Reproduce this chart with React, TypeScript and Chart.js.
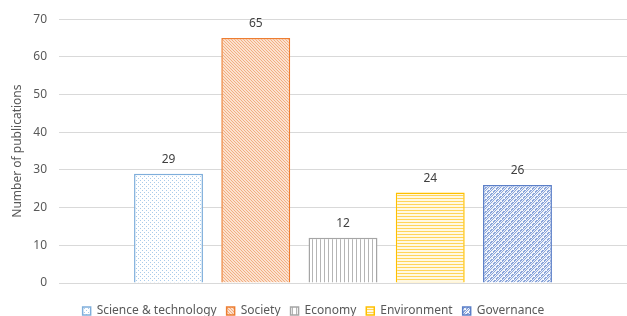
import React, { useEffect, useRef } from "react";
import { Chart, registerables } from "chart.js";

Chart.register(...registerables);

const categories = [""];
const seriesNames = ["Science & technology", "Society", "Economy", "Environment", "Governance"];
const seriesValues = [29, 65, 12, 24, 26];
const yTicks = [0, 10, 20, 30, 40, 50, 60, 70];

const FONT = "'Noto Sans', 'Open Sans', sans-serif";

function tile(size: number, draw: (ctx: CanvasRenderingContext2D) => void): CanvasPattern | string {
  const c = document.createElement("canvas");
  c.width = size;
  c.height = size;
  const ctx = c.getContext("2d")!;
  draw(ctx);
  return ctx.createPattern(c, "repeat") || "#ccc";
}

function makePatterns() {
  const sci = tile(4, (ctx) => {
    ctx.fillStyle = "#ffffff";
    ctx.fillRect(0, 0, 4, 4);
    ctx.fillStyle = "#A9CBEA";
    ctx.fillRect(0, 0, 1, 1);
    ctx.fillRect(2, 2, 1, 1);
  });
  const soc = tile(3, (ctx) => {
    ctx.fillStyle = "#FBE1CF";
    ctx.fillRect(0, 0, 3, 3);
    ctx.fillStyle = "#F2AF82";
    for (let i = 0; i < 3; i++) ctx.fillRect(i, i, 1, 1);
  });
  const eco = tile(4, (ctx) => {
    ctx.fillStyle = "#ffffff";
    ctx.fillRect(0, 0, 4, 4);
    ctx.fillStyle = "#B5B5B5";
    ctx.fillRect(0, 0, 1, 4);
  });
  const env = tile(3, (ctx) => {
    ctx.fillStyle = "#FFF8E3";
    ctx.fillRect(0, 0, 3, 3);
    ctx.fillStyle = "#FFD45A";
    ctx.fillRect(0, 0, 3, 1);
  });
  const gov = tile(6, (ctx) => {
    ctx.fillStyle = "#EEF2FA";
    ctx.fillRect(0, 0, 6, 6);
    ctx.fillStyle = "#8AA5DA";
    for (let i = 0; i < 6; i++) {
      ctx.fillRect((6 - i) % 6, i, 1, 1);
      ctx.fillRect((7 - i) % 6, i, 1, 1);
      ctx.fillRect((3 - i + 6) % 6, i, 1, 1);
    }
    ctx.fillStyle = "#ffffff";
    ctx.fillRect(0, 0, 1, 1);
    ctx.fillRect(3, 3, 1, 1);
  });
  return [sci, soc, eco, env, gov];
}

const borderColors = ["#7FAEDB", "#ED7D31", "#A5A5A5", "#FFC000", "#5B7FC8"];

const valueLabels = {
  id: "valueLabels",
  afterDatasetsDraw(chart: any) {
    const ctx = chart.ctx;
    ctx.save();
    ctx.font = `12px ${FONT}`;
    ctx.fillStyle = "#404040";
    ctx.textAlign = "center";
    ctx.textBaseline = "bottom";
    chart.data.datasets.forEach((ds: any, i: number) => {
      const meta = chart.getDatasetMeta(i);
      meta.data.forEach((bar: any, j: number) => {
        ctx.fillText(String(ds.data[j]), bar.x, bar.y - 8);
      });
    });
    ctx.restore();
  },
};

export default function App() {
  const ref = useRef<HTMLCanvasElement>(null);
  useEffect(() => {
    document.body.style.margin = "0";
    const patterns = makePatterns();
    const chart = new Chart(ref.current!, {
      type: "bar",
      data: {
        labels: categories,
        datasets: seriesNames.map((name, i) => ({
          label: name,
          data: [seriesValues[i]],
          backgroundColor: patterns[i] as any,
          borderColor: borderColors[i],
          borderWidth: 1.5,
        })),
      },
      options: {
        responsive: false,
        animation: false,
        layout: { padding: { top: 12, right: 0, left: 0, bottom: -11 } },
        datasets: { bar: { barPercentage: 0.79, categoryPercentage: 0.768 } },
        plugins: {
          legend: {
            position: "bottom",
            labels: {
              font: { family: FONT, size: 12 },
              color: "#595959",
              boxWidth: 8,
              boxHeight: 8,
              padding: 10,
            },
          },
          tooltip: { enabled: false },
        },
        scales: {
          x: {
            ticks: { display: false },
            grid: { display: false },
            border: { display: false },
            afterFit: (axis: any) => {
              axis.height = 12;
            },
          },
          y: {
            min: 0,
            max: 70,
            afterBuildTicks: (axis: any) => {
              axis.ticks = yTicks.map((v) => ({ value: v }));
            },
            afterFit: (axis: any) => {
              axis.width = 59;
            },
            ticks: {
              font: { family: FONT, size: 12 },
              color: "#595959",
              padding: 12,
            },
            grid: { color: "#D9D9D9", drawTicks: false, lineWidth: 1 },
            border: { display: false },
            title: {
              display: true,
              text: "Number of publications",
              font: { family: FONT, size: 12 },
              color: "#595959",
              padding: { top: 10, bottom: 0 },
            },
          },
        },
      },
      plugins: [valueLabels],
    });
    return () => chart.destroy();
  }, []);
  return (
    <div style={{ width: 627, height: 316, background: "#fff" }}>
      <canvas ref={ref} width={627} height={316} />
    </div>
  );
}
